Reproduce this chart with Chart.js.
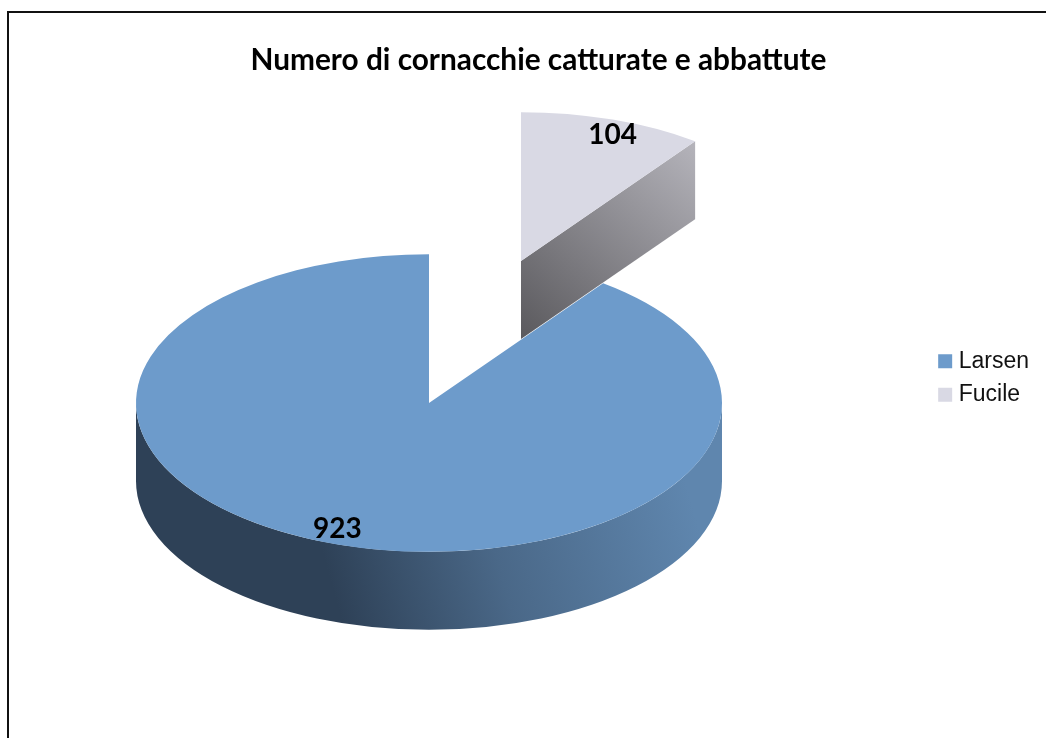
<!DOCTYPE html>
<html>
<head>
<meta charset="utf-8">
<title>Numero di cornacchie catturate e abbattute</title>
<script src="https://cdn.jsdelivr.net/npm/chart.js@4/dist/chart.umd.min.js"></script>
<style>
    html, body { margin: 0; padding: 0; background: #fff; overflow: hidden; }
    #box { position: absolute; left: 0; top: 0; width: 1046px; height: 738px; }
    #frame {
        position: absolute; left: 7px; top: 11px; right: -4px; bottom: -4px;
        border: 2px solid #111;
    }
    canvas { position: absolute; left: 0; top: 0; }
</style>
</head>
<body>
<div id="box">
    <div id="frame"></div>
    <canvas id="crowChart" width="1046" height="738"></canvas>
</div>
<script>
const categories = ['Larsen', 'Fucile'];
const crowCounts = [923, 104];
const sliceColors = ['#6d9bcb', '#d9d9e4'];
const titleText = 'Numero di cornacchie catturate e abbattute';

// pie look: squashed disc with a visible side wall
const PIE_X = 429;
const PIE_Y = 403;
const PIE_RADIUS = 293;
const SQUASH = 0.508;
const DEPTH = 78;
const EXPLODE_X = [0, 92];
const EXPLODE_Y = [0, -142];
const LABEL_X = 1.0;
const LABEL_Y = 0.89;

// Larsen starts where Fucile ends, so Fucile sits just right of 12 o'clock
const fucileSweep = crowCounts[1] / (crowCounts[0] + crowCounts[1]) * 360;

// outer wall of the disc, only the part facing the viewer (canvas angles 0..PI)
function outerWall(ctx, x, y, rx, ry, start, end) {
    const from = Math.max(start, 0);
    const to = Math.min(end, Math.PI);
    if (to <= from) return false;
    ctx.beginPath();
    ctx.ellipse(x, y, rx, ry, 0, from, to);
    ctx.ellipse(x, y + DEPTH, rx, ry, 0, to, from, true);
    ctx.closePath();
    return true;
}

const pie3d = {
    id: 'pie3d',
    beforeDatasetsDraw(chart) {
        const ctx = chart.ctx;
        const arcs = chart.getDatasetMeta(0).data;

        arcs.forEach((arc, i) => {
            const x = PIE_X + EXPLODE_X[i];
            const y = PIE_Y + EXPLODE_Y[i];
            const rx = arc.outerRadius;
            const ry = arc.outerRadius * SQUASH;

            if (i === 0) {
                if (outerWall(ctx, x, y, rx, ry, arc.startAngle, arc.endAngle)) {
                    const g = ctx.createLinearGradient(x - 95, y + 190, x + 260, y + 90);
                    g.addColorStop(0, '#2e4157');
                    g.addColorStop(0.45, '#4a6888');
                    g.addColorStop(1, '#5f86ae');
                    ctx.fillStyle = g;
                    ctx.fill();
                }
            } else {
                // radial cut of the exploded slice, the end angle faces the viewer
                const ex = x + Math.cos(arc.endAngle) * rx;
                const ey = y + Math.sin(arc.endAngle) * ry;
                ctx.beginPath();
                ctx.moveTo(x, y);
                ctx.lineTo(ex, ey);
                ctx.lineTo(ex, ey + DEPTH);
                ctx.lineTo(x, y + DEPTH);
                ctx.closePath();
                const g = ctx.createLinearGradient(x, y + DEPTH, ex, ey);
                g.addColorStop(0, '#5a595d');
                g.addColorStop(1, '#b5b4bb');
                ctx.fillStyle = g;
                ctx.fill();
            }

            ctx.save();
            ctx.translate(x, y);
            ctx.scale(1, SQUASH);
            ctx.translate(-arc.x, -arc.y);
            arc.draw(ctx);
            ctx.restore();
        });

        // value labels on top of every slice
        ctx.save();
        ctx.font = 'bold 28px Lato';
        ctx.fillStyle = '#000';
        ctx.textAlign = 'center';
        ctx.textBaseline = 'middle';
        arcs.forEach((arc, i) => {
            const mid = (arc.startAngle + arc.endAngle) / 2;
            const r = arc.outerRadius;
            const lx = PIE_X + EXPLODE_X[i] + Math.cos(mid) * r * LABEL_X;
            const ly = PIE_Y + EXPLODE_Y[i] + Math.sin(mid) * r * SQUASH * LABEL_Y;
            ctx.fillText(String(crowCounts[i]), lx, ly);
        });
        ctx.restore();
        return false;
    }
};

new Chart(document.getElementById('crowChart'), {
    type: 'pie',
    data: {
        labels: categories,
        datasets: [{
            data: crowCounts,
            backgroundColor: sliceColors,
            borderWidth: 0,
            radius: PIE_RADIUS
        }]
    },
    options: {
        responsive: false,
        animation: false,
        rotation: fucileSweep,
        layout: { padding: { left: 38, right: 7, top: 43, bottom: 25 } },
        plugins: {
            title: {
                display: true,
                text: titleText,
                color: '#000',
                font: { family: 'Lato', size: 29.8, weight: 'bold' },
                padding: { top: 0, bottom: 10 }
            },
            legend: {
                position: 'right',
                labels: {
                    color: '#111',
                    font: { family: 'Liberation Sans', size: 23 },
                    usePointStyle: true,
                    pointStyle: 'rect',
                    boxWidth: 4,
                    boxHeight: 14,
                    padding: 10.5
                }
            },
            tooltip: { enabled: false }
        }
    },
    plugins: [pie3d]
});
</script>
</body>
</html>
